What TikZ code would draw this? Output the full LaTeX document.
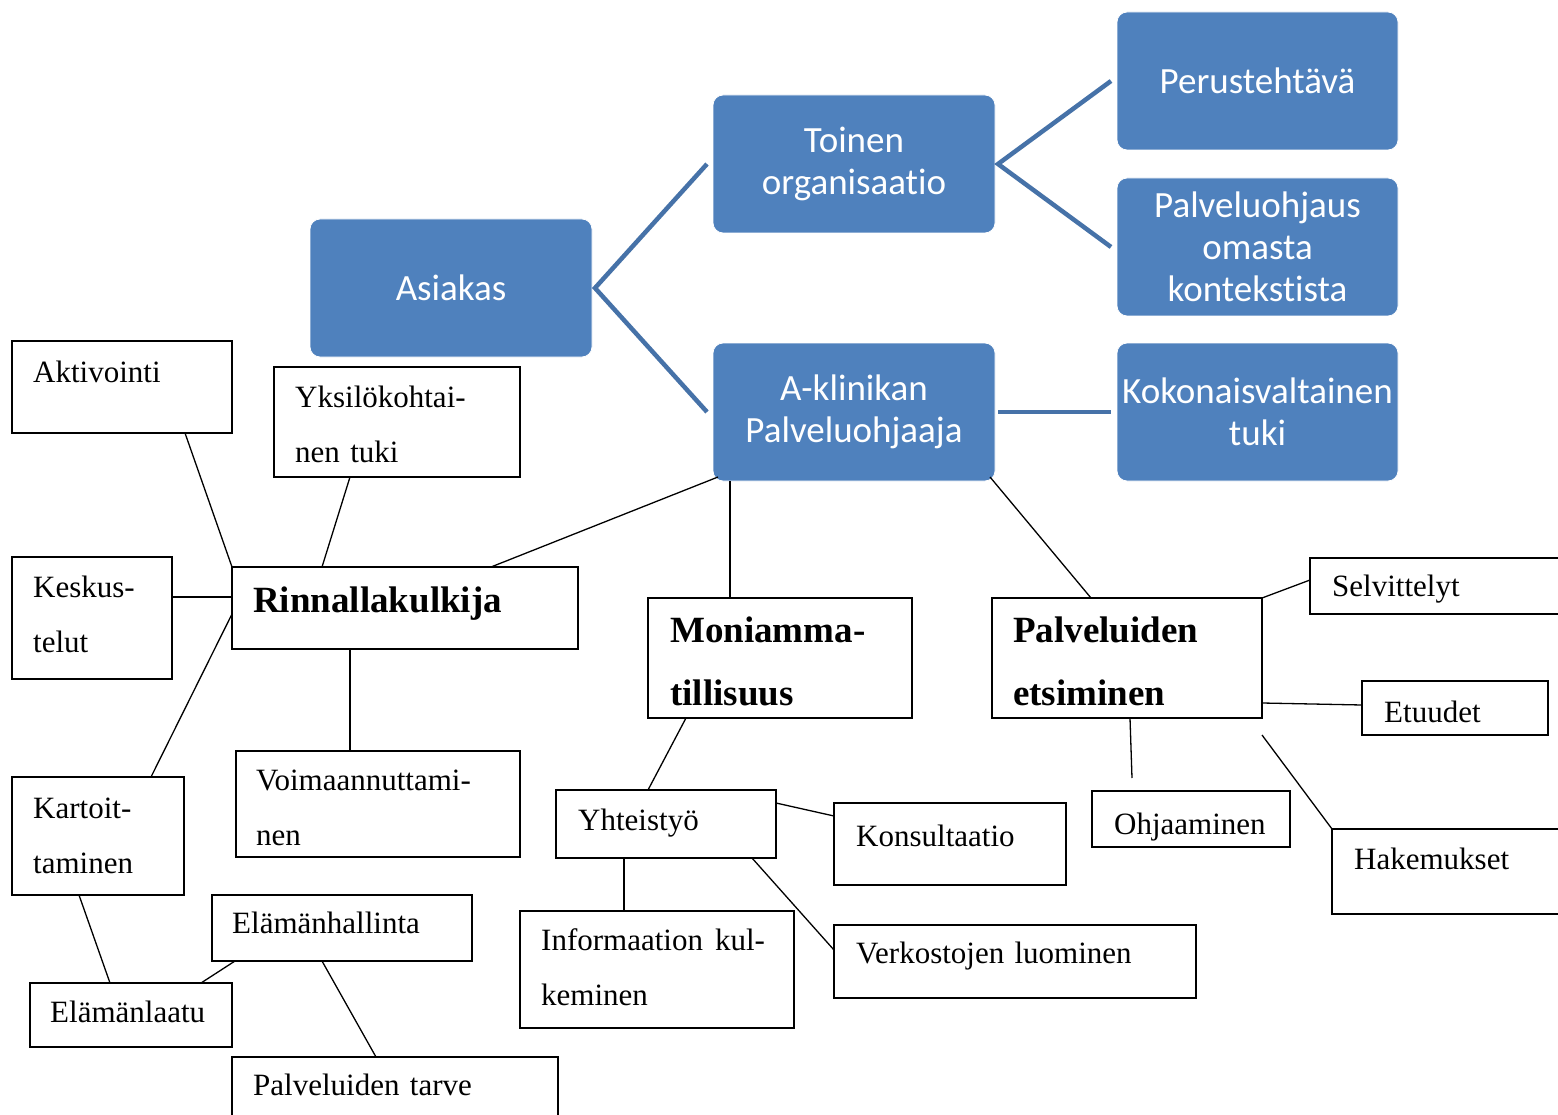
\documentclass[tikz,border=0pt]{standalone}
\usepackage{fontspec}
\setmainfont{Liberation Serif}
\newfontfamily\calfont{Carlito}[Ligatures={NoCommon}]
\usetikzlibrary{calc}
\definecolor{blueF}{RGB}{79,129,189}
\definecolor{blueL}{RGB}{70,114,168}
\tikzset{
  wbox/.style={draw=black, line width=1.4pt, fill=white, rectangle, inner sep=0pt, outer sep=0pt, anchor=north west},
  bbox/.style={fill=blueF, draw=white, line width=0.8pt, rounded corners=10pt, inner sep=0pt, outer sep=0pt, anchor=north west, text=white, align=center, font=\calfont\fontsize{37}{42}\selectfont},
  wtxt/.style={anchor=base west, inner sep=0pt, text width=330pt, align=left, font=\fontsize{31}{55}\selectfont},
  btxt/.style={anchor=base west, inner sep=0pt, text width=330pt, align=left, font=\bfseries\fontsize{37}{63}\selectfont},
  bline/.style={draw=blueL, line width=4.5pt},
  kline/.style={draw=black, line width=1.3pt}
}
\begin{document}
\begin{tikzpicture}[x=1pt,y=-1pt]
\path[use as bounding box] (0,0) rectangle (1558,1115);
\clip (0,0) rectangle (1558,1115);
\fill[white] (0,0) rectangle (1558,1115);

% blue boxes
\node[bbox, minimum width=282pt, minimum height=138pt] (asi) at (310,219) {Asiakas};
\node[bbox, minimum width=282pt, minimum height=138pt] (toi) at (713,95) {Toinen\\organisaatio};
\node[bbox, minimum width=281pt, minimum height=138pt] (per) at (1117,12) {Perustehtävä};
\node[bbox, minimum width=281pt, minimum height=138pt] (pal) at (1117,178) {Palveluohjaus\\omasta\\kontekstista};
\node[bbox, minimum width=282pt, minimum height=138pt] (akl) at (713,343) {A-klinikan\\Palveluohjaaja};
\node[bbox, minimum width=281pt, minimum height=138pt] (kok) at (1117,343) {Kokonaisvaltainen\\tuki};

% blue connectors
\coordinate (va) at ([xshift=3pt]asi.east);
\coordinate (vb) at ([xshift=3pt]toi.east);
\draw[bline] ([xshift=-6pt]toi.west) -- (va) -- ([xshift=-6pt]akl.west);
\draw[bline] ([xshift=-6pt]per.west) -- (vb) -- ([xshift=-6pt]pal.west);
\draw[bline] ([xshift=3pt]akl.east) -- ([xshift=-6pt]kok.west);

% white boxes
\node[wbox, minimum width=220pt, minimum height=92pt] (akt) at (12,341) {};
\node[wbox, minimum width=246pt, minimum height=110pt] (yks) at (274,367) {};
\node[wbox, minimum width=160pt, minimum height=122pt] (kes) at (12,557) {};
\node[wbox, minimum width=346pt, minimum height=82pt] (rin) at (232,567) {};
\node[wbox, minimum width=284pt, minimum height=106pt] (voi) at (236,751) {};
\node[wbox, minimum width=172pt, minimum height=118pt] (kar) at (12,777) {};
\node[wbox, minimum width=260pt, minimum height=66pt] (elh) at (212,895) {};
\node[wbox, minimum width=202pt, minimum height=64pt] (ela) at (30,983) {};
\node[wbox, minimum width=326pt, minimum height=80pt] (pta) at (232,1057) {};
\node[wbox, minimum width=264pt, minimum height=120pt] (mon) at (648,598) {};
\node[wbox, minimum width=270pt, minimum height=120pt] (pet) at (992,598) {};
\node[wbox, minimum width=220pt, minimum height=68pt] (yht) at (556,790) {};
\node[wbox, minimum width=232pt, minimum height=82pt] (kon) at (834,803) {};
\node[wbox, minimum width=274pt, minimum height=117pt] (inf) at (520,911) {};
\node[wbox, minimum width=362pt, minimum height=73pt] (ver) at (834,925) {};
\node[wbox, minimum width=198pt, minimum height=56pt] (ohj) at (1092,791) {};
\node[wbox, minimum width=260pt, minimum height=56pt] (sel) at (1310,558) {};
\node[wbox, minimum width=186pt, minimum height=54pt] (etu) at (1362,681) {};
\node[wbox, minimum width=240pt, minimum height=85pt] (hak) at (1332,829) {};

% texts
\node[wtxt] (akt-t) at (33,382) {Aktivointi};
\node[wtxt] (yks-t) at (295,407) {Yksilökohtai-\\nen tuki};
\node[wtxt] (kes-t) at (33,597) {Keskus-\\telut};
\node[btxt] (rin-t) at (253,612) {Rinnallakulkija};
\node[wtxt] (voi-t) at (256,790) {Voimaannuttami-\\nen};
\node[wtxt] (kar-t) at (33,818) {Kartoit-\\taminen};
\node[wtxt] (elh-t) at (232,933) {Elämänhallinta};
\node[wtxt] (ela-t) at (50,1022) {Elämänlaatu};
\node[wtxt] (pta-t) at (253,1095) {Palveluiden tarve};
\node[btxt] (mon-t) at (670,642) {Moniamma-\\tillisuus};
\node[btxt] (pet-t) at (1013,642) {Palveluiden\\etsiminen};
\node[wtxt] (yht-t) at (578,830) {Yhteistyö};
\node[wtxt] (kon-t) at (856,846) {Konsultaatio};
\node[wtxt] (inf-t) at (541,950) {Informaation\hspace{12pt}kul-\\keminen};
\node[wtxt] (ver-t) at (856,963) {Verkostojen luominen};
\node[wtxt] (ohj-t) at (1114,834) {Ohjaaminen};
\node[wtxt] (sel-t) at (1332,596) {Selvittelyt};
\node[wtxt] (etu-t) at (1384,722) {Etuudet};
\node[wtxt] (hak-t) at (1354,869) {Hakemukset};

% black connectors
\coordinate (ohjend) at (1132,778);
\coordinate (hakstart) at (1262,735);
\draw[kline] ([xshift=173pt]akt.south west) -- (rin.north west);
\draw[kline] ([xshift=76pt]yks.south west) -- ([xshift=90pt]rin.north west);
\draw[kline] ([xshift=5pt,yshift=4pt]akl.south west) -- ([xshift=259pt]rin.north west);
\draw[kline] ([yshift=21pt]kes.east) -- ([yshift=11pt]rin.west);
\draw[kline] ([yshift=-6pt]rin.west) -- ([xshift=139pt]kar.north west);
\draw[kline] ([xshift=118pt]rin.south west) -- ([xshift=114pt]voi.north west);
\draw[kline] ([xshift=67pt]kar.south west) -- ([xshift=80pt]ela.north west);
\draw[kline] ([xshift=23pt]elh.south west) -- ([xshift=171pt]ela.north west);
\draw[kline] ([xshift=110pt]elh.south west) -- ([xshift=144pt]pta.north west);
\draw[kline] ([xshift=17pt]akl.south west) -- ([xshift=82pt]mon.north west);
\draw[kline] ([xshift=-5pt,yshift=4pt]akl.south east) -- ([xshift=99pt]pet.north west);
\draw[kline] ([xshift=38pt]mon.south west) -- ([xshift=92pt]yht.north west);
\draw[kline] ([yshift=-13pt]yht.north east) -- ([yshift=-13pt]kon.north west);
\draw[kline] ([xshift=68pt]yht.south west) -- ([xshift=104pt]inf.north west);
\draw[kline] ([xshift=196pt]yht.south west) -- ([yshift=-25pt]ver.north west);
\draw[kline] ([xshift=138pt]pet.south west) -- (ohjend);
\draw[kline] (pet.north east) -- ([yshift=-22pt]sel.north west);
\draw[kline] ([yshift=-105pt]pet.north east) -- ([yshift=-24pt]etu.north west);
\draw[kline] (hakstart) -- (hak.north west);
\end{tikzpicture}
\end{document}
